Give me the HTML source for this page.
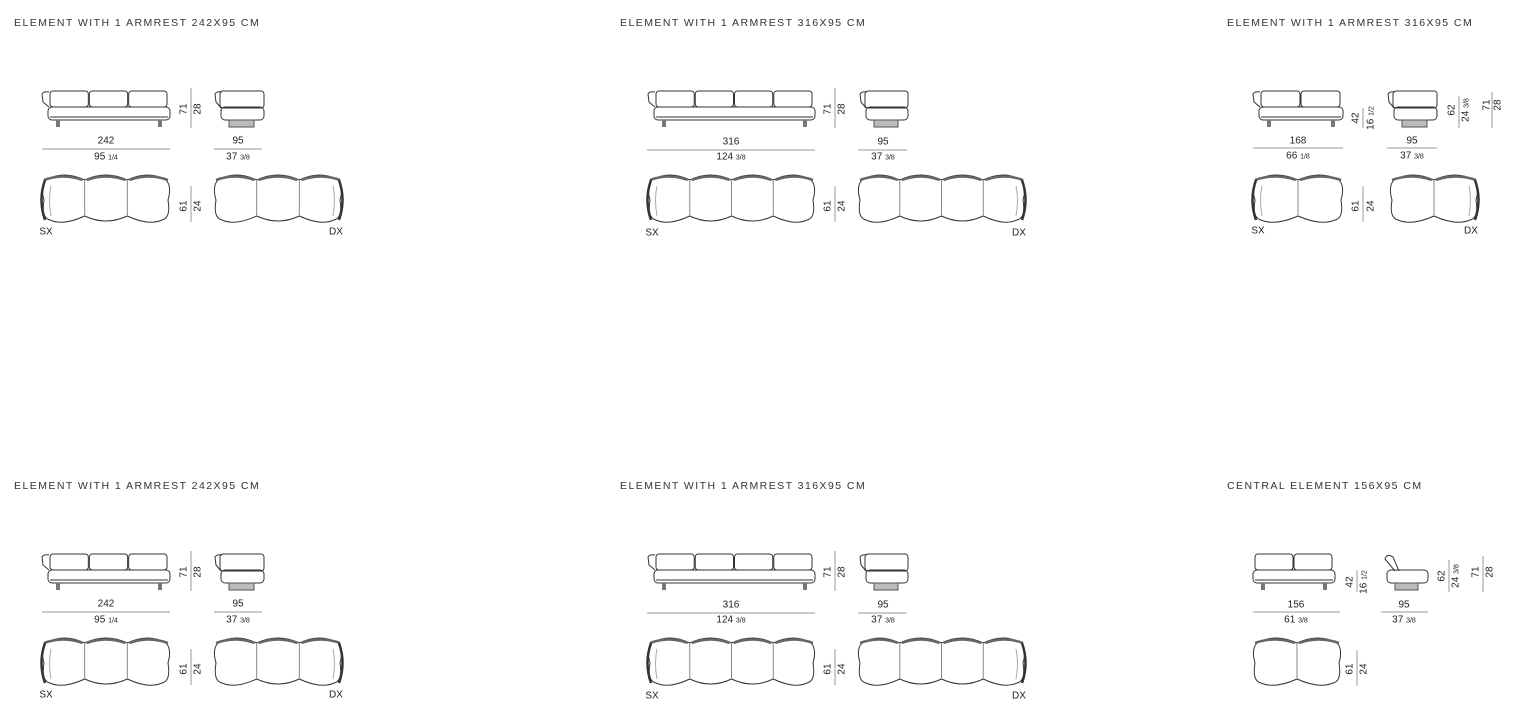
<!DOCTYPE html>
<html><head><meta charset="utf-8"><style>
body{margin:0;width:1533px;height:709px;background:#fff;position:relative;overflow:hidden;font-family:"Liberation Sans",sans-serif}
.t{position:absolute;font-size:10.5px;letter-spacing:1.45px;color:#333}
.n{position:absolute;font-family:"Liberation Sans Narrow","Liberation Sans",sans-serif;font-size:10px;color:#222;transform:translate(-50%,-50%);white-space:nowrap}
.n small{font-size:7px}
.r{transform:translate(-50%,-50%) rotate(-90deg)}
svg{position:absolute;left:0;top:0}
</style></head><body>
<svg id="s" width="1533" height="709"></svg>
<div class="t" style="left:14px;top:17px">ELEMENT WITH 1 ARMREST 242X95 CM</div>
<div class="t" style="left:620px;top:17px">ELEMENT WITH 1 ARMREST 316X95 CM</div>
<div class="t" style="left:1227px;top:17px">ELEMENT WITH 1 ARMREST 316X95 CM</div>
<div class="t" style="left:14px;top:480px">ELEMENT WITH 1 ARMREST 242X95 CM</div>
<div class="t" style="left:620px;top:480px">ELEMENT WITH 1 ARMREST 316X95 CM</div>
<div class="t" style="left:1227px;top:480px">CENTRAL ELEMENT 156X95 CM</div>

<div class="n" style="left:106px;top:141px">242</div><div class="n" style="left:106px;top:157px">95 <small>1/4</small></div>
<div class="n" style="left:238px;top:141px">95</div><div class="n" style="left:238px;top:157px">37 <small>3/8</small></div>
<div class="n r" style="left:184px;top:109px">71</div><div class="n r" style="left:198px;top:109px">28</div>
<div class="n r" style="left:184px;top:206px">61</div><div class="n r" style="left:198px;top:206px">24</div>
<div class="n" style="left:46px;top:232px">SX</div><div class="n" style="left:336px;top:232px">DX</div>

<div class="n" style="left:731px;top:142px">316</div><div class="n" style="left:731px;top:157px">124 <small>3/8</small></div>
<div class="n" style="left:883px;top:142px">95</div><div class="n" style="left:883px;top:157px">37 <small>3/8</small></div>
<div class="n r" style="left:828px;top:109px">71</div><div class="n r" style="left:842px;top:109px">28</div>
<div class="n r" style="left:828px;top:206px">61</div><div class="n r" style="left:842px;top:206px">24</div>
<div class="n" style="left:652px;top:233px">SX</div><div class="n" style="left:1019px;top:233px">DX</div>

<div class="n" style="left:1298px;top:141px">168</div><div class="n" style="left:1298px;top:156px">66 <small>1/8</small></div>
<div class="n" style="left:1412px;top:141px">95</div><div class="n" style="left:1412px;top:156px">37 <small>3/8</small></div>
<div class="n r" style="left:1356px;top:118px">42</div><div class="n r" style="left:1371px;top:118px">16 <small>1/2</small></div>
<div class="n r" style="left:1452px;top:110px">62</div><div class="n r" style="left:1466px;top:110px">24 <small>3/8</small></div>
<div class="n r" style="left:1487px;top:105px">71</div><div class="n r" style="left:1498px;top:105px">28</div>
<div class="n r" style="left:1356px;top:206px">61</div><div class="n r" style="left:1371px;top:206px">24</div>
<div class="n" style="left:1258px;top:231px">SX</div><div class="n" style="left:1471px;top:231px">DX</div>

<div class="n" style="left:106px;top:604px">242</div><div class="n" style="left:106px;top:620px">95 <small>1/4</small></div>
<div class="n" style="left:238px;top:604px">95</div><div class="n" style="left:238px;top:620px">37 <small>3/8</small></div>
<div class="n r" style="left:184px;top:572px">71</div><div class="n r" style="left:198px;top:572px">28</div>
<div class="n r" style="left:184px;top:669px">61</div><div class="n r" style="left:198px;top:669px">24</div>
<div class="n" style="left:46px;top:695px">SX</div><div class="n" style="left:336px;top:695px">DX</div>

<div class="n" style="left:731px;top:605px">316</div><div class="n" style="left:731px;top:620px">124 <small>3/8</small></div>
<div class="n" style="left:883px;top:605px">95</div><div class="n" style="left:883px;top:620px">37 <small>3/8</small></div>
<div class="n r" style="left:828px;top:572px">71</div><div class="n r" style="left:842px;top:572px">28</div>
<div class="n r" style="left:828px;top:669px">61</div><div class="n r" style="left:842px;top:669px">24</div>
<div class="n" style="left:652px;top:696px">SX</div><div class="n" style="left:1019px;top:696px">DX</div>

<div class="n" style="left:1296px;top:605px">156</div><div class="n" style="left:1296px;top:620px">61 <small>3/8</small></div>
<div class="n" style="left:1404px;top:605px">95</div><div class="n" style="left:1404px;top:620px">37 <small>3/8</small></div>
<div class="n r" style="left:1350px;top:582px">42</div><div class="n r" style="left:1364px;top:582px">16 <small>1/2</small></div>
<div class="n r" style="left:1442px;top:576px">62</div><div class="n r" style="left:1456px;top:576px">24 <small>3/8</small></div>
<div class="n r" style="left:1476px;top:572px">71</div><div class="n r" style="left:1490px;top:572px">28</div>
<div class="n r" style="left:1350px;top:669px">61</div><div class="n r" style="left:1364px;top:669px">24</div>

<script>
var s=document.getElementById('s'),h='';
var st='fill="none" stroke="#333" stroke-width="1"';
function L(x1,y1,x2,y2){h+='<line x1="'+x1+'" y1="'+y1+'" x2="'+x2+'" y2="'+y2+'" stroke="#999" stroke-width="1"/>';}
function frontv(x,y,w,n,arm){
  var a=arm?6:0,cw=(w-a-4)/n;
  if(arm)h+='<path d="M'+(x+7)+' '+(y+17)+' L'+(x+1)+' '+(y+12)+' L'+(x)+' '+(y+4)+' Q'+(x+2)+' '+(y+1)+' '+(x+7)+' '+(y+2)+'" '+st+'/>';
  for(var i=0;i<n;i++)h+='<rect x="'+(x+a+2+i*cw)+'" y="'+(y+1)+'" width="'+(cw-1)+'" height="16" rx="3" '+st+'/>';
  h+='<rect x="'+(x+a)+'" y="'+(y+17)+'" width="'+(w-a)+'" height="13" rx="4" '+st+'/>';
  h+='<line x1="'+(x+a+2)+'" y1="'+(y+27)+'" x2="'+(x+w-2)+'" y2="'+(y+27)+'" stroke="#333"/>';
  h+='<rect x="'+(x+a+8)+'" y="'+(y+30)+'" width="4" height="7" fill="#777"/><rect x="'+(x+w-12)+'" y="'+(y+30)+'" width="4" height="7" fill="#777"/>';
}
function sidev(x,y,w,arm){
  if(arm){h+='<path d="M'+(x+6)+' '+(y+18)+' L'+(x+1)+' '+(y+12)+' L'+x+' '+(y+4)+' Q'+(x+2)+' '+(y+1)+' '+(x+7)+' '+(y+2)+'" '+st+'/>';
  h+='<rect x="'+(x+5)+'" y="'+(y+1)+'" width="'+(w-5)+'" height="17" rx="3" '+st+'/>';}
  else h+='<path d="M'+(x+14)+' '+(y+18)+' L'+(x+4)+' '+(y+6)+' Q'+(x+6)+' '+(y)+' '+(x+12)+' '+(y+4)+' L'+(x+18)+' '+(y+18)+'" '+st+'/>';
  h+='<rect x="'+(x+6)+'" y="'+(y+17)+'" width="'+(w-6)+'" height="13" rx="4" '+st+'/>';
  h+='<rect x="'+(x+14)+'" y="'+(y+30)+'" width="'+(w-24)+'" height="7" fill="#bbb" stroke="#555"/>';
}
function topv(x,y,w,n,arm){
  var cw=w/n,d='M'+(x+4)+' '+(y+8),a,b,i;
  for(i=0;i<n;i++){a=x+i*cw;b=a+cw;d+=' Q'+(a+cw/2)+' '+(y-2)+' '+(i==n-1?b-4:b)+' '+(y+8);}
  d+=' Q'+(x+w+2)+' '+(y+14)+' '+(x+w-2)+' '+(y+28)+' Q'+(x+w+1)+' '+(y+46)+' '+(x+w-8)+' '+(y+48);
  for(i=n-1;i>=0;i--){a=x+i*cw;d+=' Q'+(a+cw/2)+' '+(y+54)+' '+(i==0?a+8:a)+' '+(y+(i==0?48:44));}
  d+=' Q'+(x-1)+' '+(y+46)+' '+(x+2)+' '+(y+28)+' Q'+(x-2)+' '+(y+14)+' '+(x+4)+' '+(y+8)+'Z';
  h+='<path d="'+d+'" '+st+' stroke-width="1.2"/>';
  for(i=0;i<n;i++){a=x+i*cw;h+='<path d="M'+(a+2)+' '+(y+8)+' Q'+(a+cw/2)+' '+(y+1)+' '+(a+cw-2)+' '+(y+8)+'" fill="none" stroke="#666" stroke-width="2.5"/>';}
  for(i=1;i<n;i++)h+='<line x1="'+(x+i*cw)+'" y1="'+(y+8)+'" x2="'+(x+i*cw)+'" y2="'+(y+44)+'" stroke="#888"/>';
  if(arm=='L')h+='<path d="M'+(x+3)+' '+(y+8)+' Q'+(x-4)+' '+(y+28)+' '+(x+3)+' '+(y+48)+'" fill="none" stroke="#333" stroke-width="2.5"/><path d="M'+(x+9)+' '+(y+14)+' Q'+(x+6)+' '+(y+28)+' '+(x+9)+' '+(y+44)+'" fill="none" stroke="#aaa"/>';
  if(arm=='R')h+='<path d="M'+(x+w-3)+' '+(y+8)+' Q'+(x+w+4)+' '+(y+28)+' '+(x+w-3)+' '+(y+48)+'" fill="none" stroke="#333" stroke-width="2.5"/><path d="M'+(x+w-9)+' '+(y+14)+' Q'+(x+w-6)+' '+(y+28)+' '+(x+w-9)+' '+(y+44)+'" fill="none" stroke="#aaa"/>';
}
[0,463].forEach(function(dy){
  frontv(42,90+dy,128,3,true);sidev(215,90+dy,49,true);
  L(42,149+dy,170,149+dy);L(214,149+dy,262,149+dy);L(191,88+dy,191,128+dy);L(191,186+dy,191,222+dy);
  topv(42,172+dy,128,3,'L');topv(214,172+dy,128,3,'R');
  frontv(648,90+dy,167,4,true);sidev(860,90+dy,48,true);
  L(647,150+dy,815,150+dy);L(858,150+dy,907,150+dy);L(835,88+dy,835,128+dy);L(835,186+dy,835,222+dy);
  topv(648,172+dy,167,4,'L');topv(858,172+dy,167,4,'R');
});
frontv(1253,90,90,2,true);sidev(1388,90,49,true);
L(1253,148,1343,148);L(1387,148,1437,148);L(1363,108,1363,128);L(1459,96,1459,128);L(1492,92,1492,128);L(1363,186,1363,222);
topv(1253,172,90,2,'L');topv(1390,172,88,2,'R');
frontv(1253,553,82,2,false);sidev(1381,553,47,false);
L(1253,612,1340,612);L(1381,612,1428,612);L(1357,570,1357,592);L(1449,560,1449,592);L(1483,556,1483,592);L(1357,650,1357,686);
topv(1253,635,88,2,'');
s.innerHTML=h;
</script>
</body></html>
